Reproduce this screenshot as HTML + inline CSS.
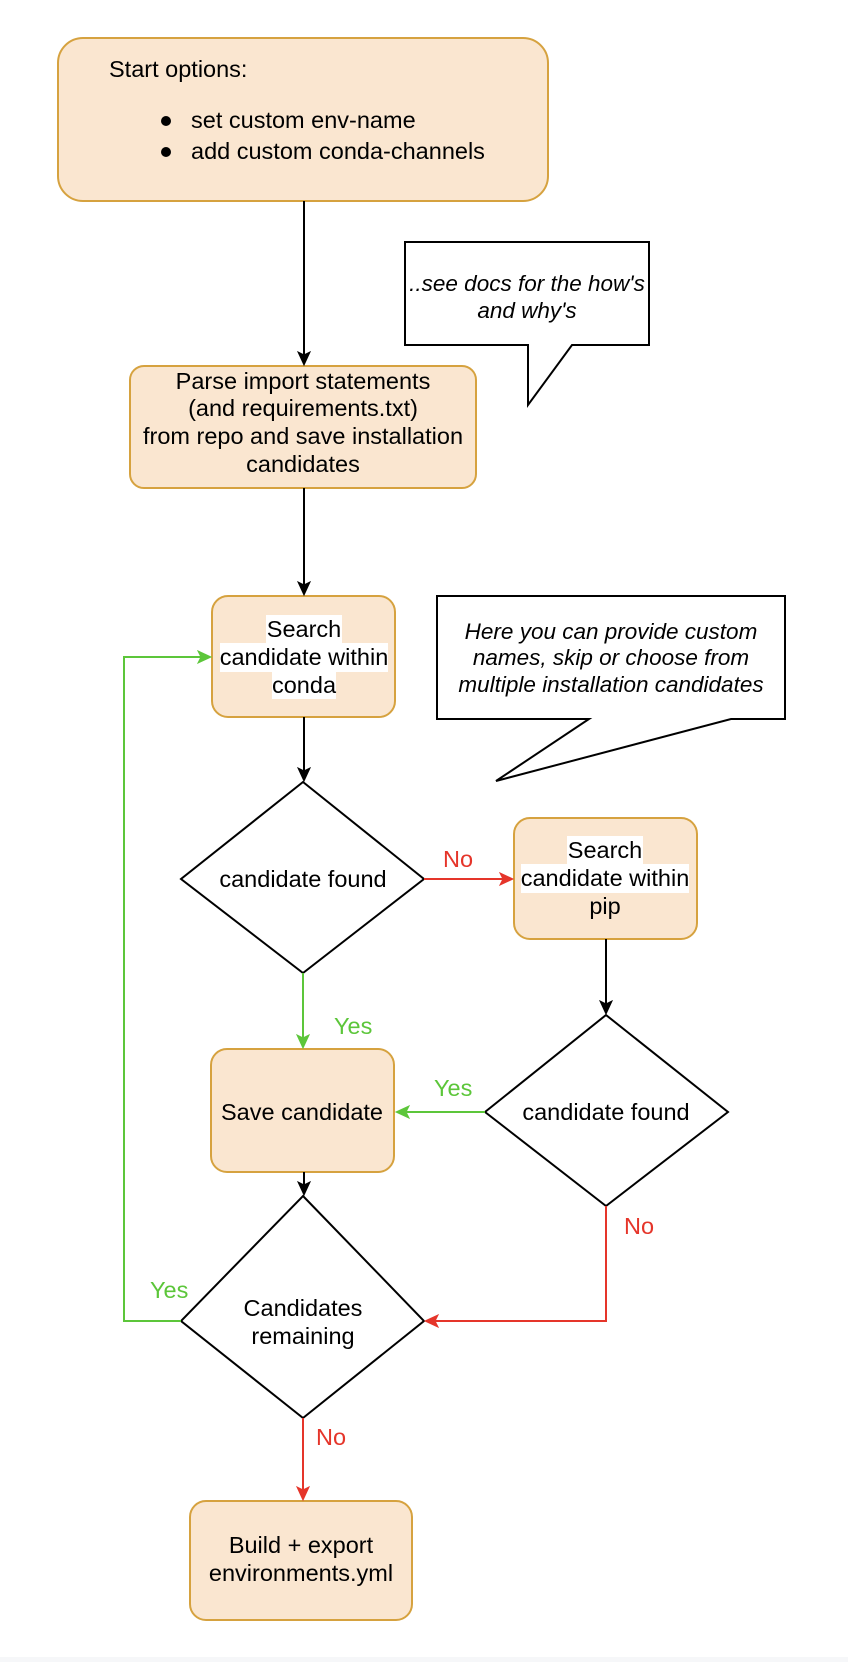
<!DOCTYPE html>
<html><head><meta charset="utf-8"><style>
html,body{margin:0;padding:0;background:#fff;}
svg{display:block;}
text{font-family:"Liberation Sans",Arial,sans-serif;font-size:23.5px;fill:#000;}
.it{font-style:italic;font-size:22.5px;}
</style></head><body>
<svg width="848" height="1662" viewBox="0 0 848 1662" xmlns="http://www.w3.org/2000/svg">
<defs>
<marker id="ak" markerWidth="16" markerHeight="14" refX="13" refY="7" orient="auto" markerUnits="userSpaceOnUse"><path d="M1,1 L14,7 L1,13 L4,7 z" fill="#000" stroke="#000" stroke-width="1"/></marker>
<marker id="ag" markerWidth="16" markerHeight="14" refX="13" refY="7" orient="auto" markerUnits="userSpaceOnUse"><path d="M1,1 L14,7 L1,13 L4,7 z" fill="#5cc63a" stroke="#5cc63a" stroke-width="1"/></marker>
<marker id="ar" markerWidth="16" markerHeight="14" refX="13" refY="7" orient="auto" markerUnits="userSpaceOnUse"><path d="M1,1 L14,7 L1,13 L4,7 z" fill="#e5352a" stroke="#e5352a" stroke-width="1"/></marker>
</defs>
<rect x="0" y="1657" width="848" height="5" fill="#f6f7f9"/>
<g fill="#fae6d0" stroke="#d6a23f" stroke-width="2">
<rect x="58" y="38" width="490" height="163" rx="25"/>
<rect x="130" y="366" width="346" height="122" rx="14"/>
<rect x="212" y="596" width="183" height="121" rx="16"/>
<rect x="514" y="818" width="183" height="121" rx="16"/>
<rect x="211" y="1049" width="183" height="123" rx="16"/>
<rect x="190" y="1501" width="222" height="119" rx="16"/>
</g>
<g fill="#fff" stroke="#000" stroke-width="2">
<path d="M405,242 H649 V345 H572 L528,405 V345 H405 Z"/>
<path d="M437,596 H785 V719 H731 L496,781 L589,719 H437 Z"/>
<path d="M303,782 L424,879 L303,973 L181,879 Z"/>
<path d="M606,1015 L728,1112 L606,1206 L485,1112 Z"/>
<path d="M303,1196 L424,1321 L303,1418 L181,1321 Z"/>
</g>
<g stroke="#000" stroke-width="2" fill="none">
<path d="M304,201 V364" marker-end="url(#ak)"/>
<path d="M304,488 V594" marker-end="url(#ak)"/>
<path d="M304,717 V780" marker-end="url(#ak)"/>
<path d="M606,939 V1013" marker-end="url(#ak)"/>
<path d="M304,1172 V1194" marker-end="url(#ak)"/>
</g>
<g stroke="#5cc63a" stroke-width="2" fill="none">
<path d="M303,973 V1047" marker-end="url(#ag)"/>
<path d="M485,1112 H397" marker-end="url(#ag)"/>
<path d="M181,1321 H124 V657 H210" marker-end="url(#ag)"/>
</g>
<g stroke="#e5352a" stroke-width="2" fill="none">
<path d="M424,879 H512" marker-end="url(#ar)"/>
<path d="M606,1206 V1321 H426" marker-end="url(#ar)"/>
<path d="M303,1418 V1499" marker-end="url(#ar)"/>
</g>
<text x="109" y="77">Start options:</text>
<circle cx="166" cy="121" r="5" fill="#000"/><circle cx="166" cy="152" r="5" fill="#000"/>
<text x="191" y="128">set custom env-name</text>
<text x="191" y="159">add custom conda-channels</text>
<text class="it" x="527" y="291" text-anchor="middle">..see docs for the how's</text>
<text class="it" x="527" y="318" text-anchor="middle">and why's</text>
<g text-anchor="middle">
<text x="303" y="389">Parse import statements</text>
<text x="303" y="416">(and requirements.txt)</text>
<text x="303" y="444">from repo and save installation</text>
<text x="303" y="472">candidates</text>
</g>
<g fill="#fff">
<rect x="266" y="615" width="76" height="28"/><rect x="220" y="643" width="168" height="29"/><rect x="272" y="672" width="64" height="27"/>
<rect x="567" y="836" width="76" height="28"/><rect x="521" y="864" width="168" height="29"/>
</g>
<g text-anchor="middle">
<text x="304" y="637">Search</text>
<text x="304" y="665">candidate within</text>
<text x="304" y="693">conda</text>
<text x="605" y="858">Search</text>
<text x="605" y="886">candidate within</text>
<text x="605" y="914">pip</text>
<text class="it" x="611" y="639">Here you can provide custom</text>
<text class="it" x="611" y="665">names, skip or choose from</text>
<text class="it" x="611" y="692">multiple installation candidates</text>
<text x="303" y="887">candidate found</text>
<text x="606" y="1120">candidate found</text>
<text x="302" y="1120">Save candidate</text>
<text x="303" y="1316">Candidates</text>
<text x="303" y="1344">remaining</text>
<text x="301" y="1553">Build + export</text>
<text x="301" y="1581">environments.yml</text>
</g>
<g>
<text x="443" y="867" style="fill:#e5352a">No</text>
<text x="334" y="1034" style="fill:#5cc63a">Yes</text>
<text x="434" y="1096" style="fill:#5cc63a">Yes</text>
<text x="150" y="1298" style="fill:#5cc63a">Yes</text>
<text x="624" y="1234" style="fill:#e5352a">No</text>
<text x="316" y="1445" style="fill:#e5352a">No</text>
</g>
</svg>
</body></html>
